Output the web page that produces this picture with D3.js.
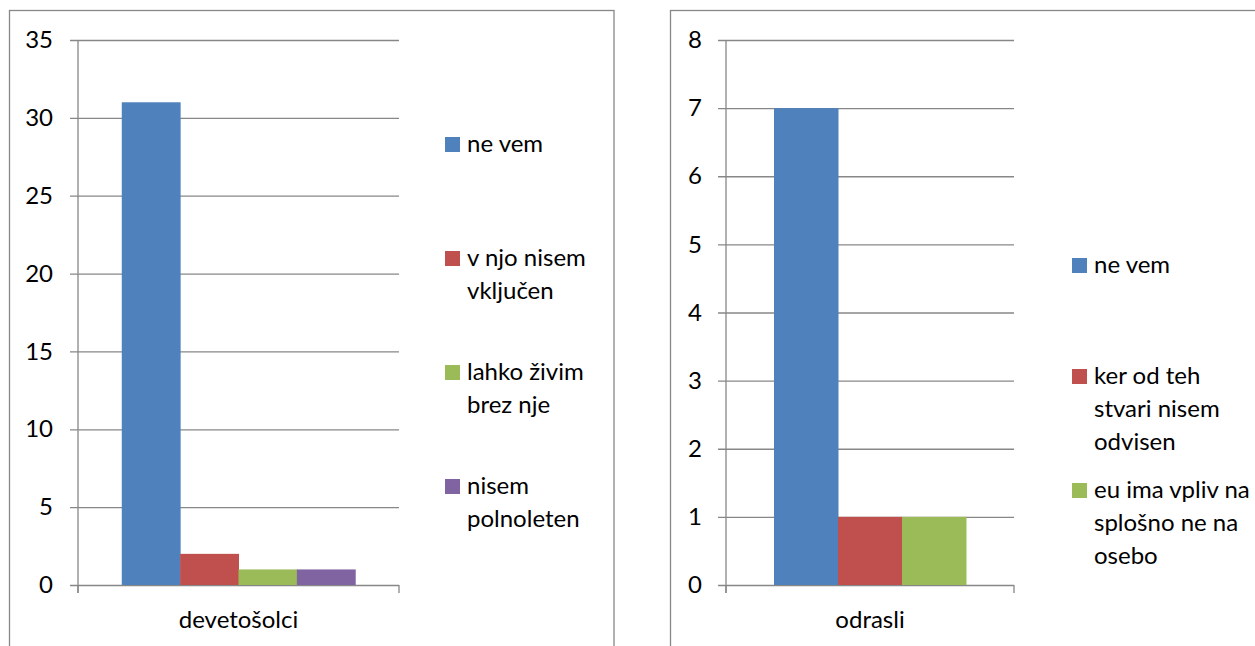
<!DOCTYPE html>
<html>
<head>
<meta charset="utf-8">
<script src="https://cdn.jsdelivr.net/npm/d3@7"></script>
<style>
  html, body { margin: 0; padding: 0; background: #fff; }
  svg { display: block; }
  text { font-family: Lato, "Noto Sans", sans-serif; fill: #000; }
</style>
</head>
<body>
<svg id="chart" width="1255" height="646"></svg>
<script>
// Left panel: ninth-graders
const leftCategories = ["devetošolci"];
const leftSeries = ["ne vem", "v njo nisem vključen", "lahko živim brez nje", "nisem polnoleten"];
const leftLegendLines = [["ne vem"], ["v njo nisem", "vključen"], ["lahko živim", "brez nje"], ["nisem", "polnoleten"]];
const leftValues = [31, 2, 1, 1];
const leftTicks = [0, 5, 10, 15, 20, 25, 30, 35];

// Right panel: adults
const rightCategories = ["odrasli"];
const rightSeries = ["ne vem", "ker od teh stvari nisem odvisen", "eu ima vpliv na splošno ne na osebo"];
const rightLegendLines = [["ne vem"], ["ker od teh", "stvari nisem", "odvisen"], ["eu ima vpliv na", "splošno ne na", "osebo"]];
const rightValues = [7, 1, 1];
const rightTicks = [0, 1, 2, 3, 4, 5, 6, 7, 8];

const colors = ["#4F81BD", "#C0504D", "#9BBB59", "#8064A2"];
const gridColor = "#878787";
const fontSize = 24;

const svg = d3.select("#chart");

function panel(cfg) {
  const g = svg.append("g");

  // outer chart frame
  g.append("rect")
    .attr("x", cfg.frame[0]).attr("y", cfg.frame[1])
    .attr("width", cfg.frame[2]).attr("height", cfg.frame[3])
    .attr("fill", "none").attr("stroke", gridColor).attr("stroke-width", 1.3);

  const y = d3.scaleLinear()
    .domain([0, d3.max(cfg.ticks)])
    .range([cfg.bottom, cfg.top]);

  const x = d3.scaleBand()
    .domain(cfg.categories)
    .range([cfg.left, cfg.right])
    .padding(0);

  // bar width follows a 150% gap between category groups
  const n = cfg.series.length;
  const barW = x.bandwidth() / (n + 1.5);
  const inner = d3.scaleBand()
    .domain(cfg.series)
    .range([barW * 0.75, barW * 0.75 + barW * n])
    .padding(0);

  // horizontal gridlines with left tick marks and labels
  const yAxis = d3.axisLeft(y)
    .tickValues(cfg.ticks)
    .tickSize(-(cfg.right - cfg.left))
    .tickPadding(cfg.labelPad)
    .tickFormat(d3.format("d"));
  const ya = g.append("g")
    .attr("transform", `translate(${cfg.left},0)`)
    .call(yAxis);
  ya.select(".domain").remove();
  ya.selectAll(".tick line")
    .attr("x1", -8)
    .attr("stroke", gridColor).attr("stroke-width", 1.3);
  ya.selectAll(".tick text")
    .style("font-family", "Lato, 'Noto Sans', sans-serif")
    .attr("font-size", fontSize).attr("fill", "#000");

  // vertical value axis line
  g.append("line")
    .attr("x1", cfg.left).attr("x2", cfg.left)
    .attr("y1", y.range()[1]).attr("y2", y.range()[0] + 8)
    .attr("stroke", gridColor).attr("stroke-width", 1.3);

  // category axis tick marks at band edges
  const edges = [x.range()[0], x.range()[1]];
  g.selectAll("line.cat-tick").data(edges).enter().append("line")
    .attr("class", "cat-tick")
    .attr("x1", d => d).attr("x2", d => d)
    .attr("y1", y(0)).attr("y2", y(0) + 8)
    .attr("stroke", gridColor).attr("stroke-width", 1.3);

  // bars
  cfg.categories.forEach(cat => {
    g.selectAll(null).data(cfg.values).enter().append("rect")
      .attr("x", (d, i) => x(cat) + inner(cfg.series[i]))
      .attr("width", inner.bandwidth() + 0.5)
      .attr("y", d => y(d))
      .attr("height", d => y(0) - y(d))
      .attr("fill", (d, i) => colors[i]);

    g.append("text")
      .attr("x", x(cat) + x.bandwidth() / 2)
      .attr("y", cfg.bottom + 43)
      .attr("text-anchor", "middle")
      .attr("font-size", fontSize)
      .text(cat);
  });

  // legend
  const lg = g.selectAll("g.legend").data(cfg.legendLines).enter().append("g")
    .attr("class", "legend")
    .attr("transform", (d, i) => `translate(${cfg.legendX},${cfg.legendTops[i]})`);
  lg.append("rect")
    .attr("width", 15).attr("height", 15)
    .attr("fill", (d, i) => colors[i]);
  lg.each(function(lines) {
    const t = d3.select(this).append("text")
      .attr("x", 22).attr("y", 15)
      .attr("font-size", fontSize);
    lines.forEach((ln, j) => {
      t.append("tspan").attr("x", 22).attr("y", 15 + j * 33).text(ln);
    });
  });
}

panel({
  frame: [9.5, 10.5, 604.5, 700],
  left: 78, right: 399, top: 40, bottom: 585, labelPad: 25,
  categories: leftCategories, series: leftSeries, values: leftValues,
  ticks: leftTicks, legendLines: leftLegendLines,
  legendX: 445, legendTops: [137, 251, 365, 479]
});

panel({
  frame: [670.5, 10.5, 700, 700],
  left: 726, right: 1014, top: 40, bottom: 585, labelPad: 24,
  categories: rightCategories, series: rightSeries, values: rightValues,
  ticks: rightTicks, legendLines: rightLegendLines,
  legendX: 1072, legendTops: [258, 369, 483]
});
</script>
</body>
</html>
